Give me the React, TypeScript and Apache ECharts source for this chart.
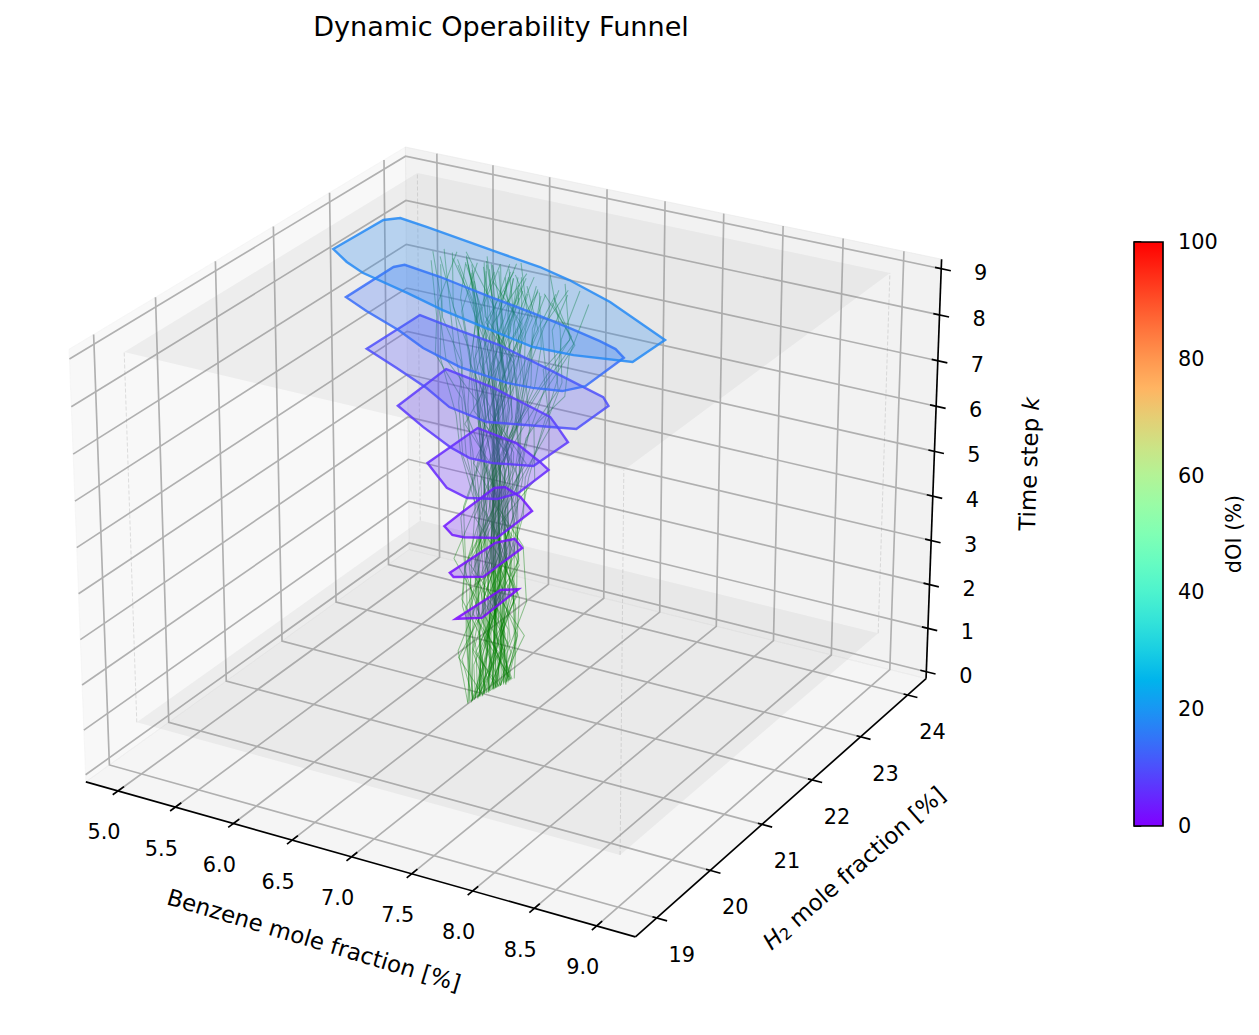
import React, { useEffect, useRef } from "react";
import * as echarts from "echarts";

const FONT = '"DejaVu Sans"';
const title = "Dynamic Operability Funnel";
const xLabel = "Benzene mole fraction [%]";
const xTicks = [5, 5.5, 6, 6.5, 7, 7.5, 8, 8.5, 9];
const yTicks = [19, 20, 21, 22, 23, 24];
const zTicks = [0, 1, 2, 3, 4, 5, 6, 7, 8, 9];
const xLim = [4.717, 9.307];
const yLim = [18.612, 24.402];
const zLim = [-0.16, 9.205];
const boxX = [4.575, 8.695];
const boxY = [19.73, 24.92];
const boxZ = [0, 8.17];

const levels = [2, 3, 4, 5, 6, 7, 8, 9];
const levelDoi = [1, 2, 3, 5, 7, 10, 14, 18];
const polyX = [
  [6.51, 6.55, 6.66, 6.67],
  [6.46, 6.49, 6.58, 6.71, 6.71, 6.52],
  [6.41, 6.40, 6.39, 6.45, 6.64, 6.84, 6.85, 6.63, 6.54],
  [6.14, 6.14, 6.53, 6.85, 6.98, 6.99, 6.91, 6.71, 6.49, 6.31],
  [5.84, 5.80, 6.29, 6.92, 7.06, 7.26, 7.25, 6.97, 6.78, 6.56, 6.20],
  [5.53, 5.54, 5.96, 6.35, 6.91, 7.49, 7.60, 7.60, 7.23, 6.98, 6.61, 6.29, 5.91],
  [5.34, 5.34, 5.39, 5.74, 6.27, 6.69, 7.07, 7.38, 7.55, 7.68, 7.69, 7.59, 7.38, 7.18, 6.74, 6.33, 6.00, 5.61],
  [5.24, 5.26, 5.35, 5.62, 6.35, 6.74, 7.05, 7.51, 8.19, 8.18, 7.76, 7.44, 7.02, 6.54, 6.15, 5.67, 5.46],
];
const polyY = [
  [21.51, 22.26, 22.36, 21.65],
  [21.51, 22.29, 22.46, 22.32, 21.59, 21.45],
  [21.52, 21.88, 22.49, 22.56, 22.44, 22.22, 21.54, 21.40, 21.39],
  [21.79, 22.72, 22.60, 22.34, 22.22, 21.63, 21.42, 21.30, 21.40, 21.60],
  [21.89, 22.86, 22.70, 22.38, 22.21, 21.96, 21.34, 21.21, 21.20, 21.32, 21.59],
  [21.98, 22.93, 22.79, 22.68, 22.40, 22.10, 21.95, 21.35, 21.19, 21.08, 21.20, 21.47, 21.73],
  [22.01, 22.87, 22.97, 22.88, 22.69, 22.55, 22.41, 22.28, 22.19, 22.05, 21.31, 21.11, 21.04, 21.02, 21.12, 21.33, 21.58, 21.82],
  [22.00, 22.86, 22.98, 22.91, 22.69, 22.58, 22.44, 22.17, 21.64, 21.06, 20.93, 20.91, 21.06, 21.24, 21.43, 21.64, 21.79],
];

const trajX = [
  [6.55, 6.50, 6.45, 6.50, 6.42, 6.33, 6.22, 6.10, 6.02, 5.95],
  [6.61, 6.70, 6.66, 6.74, 6.80, 6.92, 6.98, 7.05, 7.12, 7.22],
  [6.60, 6.55, 6.62, 6.58, 6.50, 6.44, 6.50, 6.38, 6.30, 6.18],
  [6.57, 6.62, 6.70, 6.64, 6.72, 6.66, 6.78, 6.86, 6.80, 6.94],
  [6.64, 6.58, 6.50, 6.56, 6.62, 6.55, 6.40, 6.46, 6.58, 6.42],
  [6.59, 6.66, 6.60, 6.52, 6.58, 6.70, 6.62, 6.74, 6.68, 6.80],
  [6.56, 6.48, 6.42, 6.38, 6.46, 6.36, 6.28, 6.36, 6.22, 6.30],
  [6.58, 6.60, 6.68, 6.76, 6.68, 6.78, 6.90, 6.80, 6.92, 7.02],
  [6.63, 6.68, 6.58, 6.64, 6.56, 6.48, 6.56, 6.66, 6.54, 6.60],
  [6.60, 6.50, 6.56, 6.46, 6.54, 6.62, 6.70, 6.58, 6.46, 6.52],
  [6.55, 6.60, 6.54, 6.62, 6.70, 6.60, 6.48, 6.38, 6.26, 6.14],
  [6.62, 6.56, 6.64, 6.72, 6.64, 6.74, 6.84, 6.96, 7.06, 6.98],
  [6.58, 6.64, 6.72, 6.66, 6.60, 6.50, 6.42, 6.54, 6.64, 6.76],
  [6.65, 6.72, 6.78, 6.70, 6.76, 6.86, 6.76, 6.64, 6.72, 6.62],
  [6.56, 6.52, 6.60, 6.54, 6.44, 6.52, 6.60, 6.48, 6.36, 6.46],
  [6.61, 6.66, 6.56, 6.48, 6.52, 6.42, 6.32, 6.20, 6.12, 6.04],
  [6.59, 6.54, 6.48, 6.56, 6.64, 6.74, 6.66, 6.78, 6.90, 6.84],
  [6.63, 6.58, 6.66, 6.60, 6.68, 6.60, 6.70, 6.60, 6.50, 6.38],
  [6.57, 6.64, 6.58, 6.66, 6.58, 6.66, 6.54, 6.44, 6.56, 6.68],
  [6.60, 6.68, 6.74, 6.82, 6.74, 6.64, 6.72, 6.84, 6.94, 7.10],
  [6.55, 6.46, 6.52, 6.44, 6.36, 6.44, 6.54, 6.64, 6.52, 6.40],
  [6.62, 6.54, 6.46, 6.54, 6.60, 6.68, 6.58, 6.48, 6.60, 6.70],
  [6.58, 6.62, 6.54, 6.48, 6.56, 6.48, 6.38, 6.46, 6.34, 6.24],
  [6.64, 6.60, 6.68, 6.74, 6.80, 6.72, 6.82, 6.72, 6.84, 6.90],
  [6.56, 6.58, 6.64, 6.58, 6.50, 6.58, 6.46, 6.56, 6.44, 6.34],
  [6.60, 6.64, 6.70, 6.62, 6.70, 6.78, 6.68, 6.78, 6.66, 6.56],
  [6.59, 6.52, 6.60, 6.68, 6.60, 6.52, 6.62, 6.52, 6.42, 6.28],
  [6.61, 6.70, 6.62, 6.56, 6.48, 6.40, 6.50, 6.42, 6.52, 6.44],
  [6.57, 6.50, 6.44, 6.52, 6.58, 6.66, 6.76, 6.88, 6.98, 7.08],
  [6.63, 6.66, 6.72, 6.78, 6.70, 6.60, 6.52, 6.62, 6.74, 6.66],
  [6.58, 6.56, 6.50, 6.58, 6.66, 6.56, 6.66, 6.56, 6.46, 6.56],
  [6.60, 6.62, 6.68, 6.60, 6.52, 6.46, 6.36, 6.26, 6.16, 6.08],
  [6.62, 6.58, 6.52, 6.46, 6.54, 6.64, 6.56, 6.68, 6.78, 6.72],
  [6.56, 6.62, 6.56, 6.64, 6.72, 6.82, 6.92, 7.00, 6.90, 7.14],
  [6.64, 6.56, 6.62, 6.70, 6.62, 6.54, 6.44, 6.34, 6.44, 6.36],
  [6.59, 6.60, 6.66, 6.72, 6.66, 6.58, 6.68, 6.58, 6.70, 6.58],
  [6.61, 6.54, 6.58, 6.50, 6.56, 6.50, 6.58, 6.70, 6.82, 6.74],
  [6.57, 6.64, 6.70, 6.76, 6.82, 6.90, 7.00, 7.10, 7.02, 6.88],
  [6.60, 6.56, 6.50, 6.44, 6.38, 6.30, 6.20, 6.30, 6.18, 6.00],
  [6.63, 6.68, 6.60, 6.54, 6.62, 6.70, 6.60, 6.50, 6.40, 6.50],
  [6.58, 6.62, 6.68, 6.62, 6.54, 6.62, 6.72, 6.82, 6.72, 6.82],
  [6.61, 6.58, 6.64, 6.56, 6.64, 6.56, 6.46, 6.36, 6.28, 6.20],
  [6.56, 6.60, 6.52, 6.60, 6.52, 6.44, 6.34, 6.44, 6.56, 6.48],
  [6.62, 6.66, 6.74, 6.68, 6.74, 6.68, 6.58, 6.68, 6.80, 6.96],
  [6.56, 6.42, 6.50, 6.36, 6.44, 6.24, 6.30, 6.08, 6.00, 5.90],
  [6.62, 6.78, 6.70, 6.84, 6.74, 6.98, 6.90, 7.24, 7.32, 7.40],
  [6.58, 6.44, 6.56, 6.40, 6.52, 6.30, 6.18, 6.02, 6.12, 5.98],
  [6.60, 6.74, 6.62, 6.78, 6.66, 6.88, 7.02, 6.86, 7.18, 7.06],
  [6.57, 6.68, 6.54, 6.42, 6.58, 6.44, 6.26, 6.40, 6.20, 6.10],
  [6.63, 6.52, 6.66, 6.80, 6.64, 6.82, 6.96, 7.14, 6.98, 7.18],
  [6.55, 6.38, 6.48, 6.60, 6.46, 6.34, 6.48, 6.30, 6.44, 6.26],
  [6.64, 6.80, 6.68, 6.56, 6.72, 6.88, 6.72, 6.90, 6.74, 6.92],
  [6.59, 6.48, 6.60, 6.46, 6.34, 6.50, 6.34, 6.20, 6.34, 6.16],
  [6.61, 6.72, 6.58, 6.72, 6.86, 6.70, 6.86, 7.02, 7.24, 7.12],
  [6.58, 6.66, 6.52, 6.64, 6.50, 6.66, 6.50, 6.66, 6.48, 6.64],
  [6.62, 6.50, 6.64, 6.52, 6.66, 6.50, 6.66, 6.48, 6.66, 6.46],
  [6.56, 6.70, 6.58, 6.44, 6.56, 6.72, 6.56, 6.38, 6.54, 6.72],
  [6.60, 6.46, 6.58, 6.70, 6.58, 6.40, 6.54, 6.72, 6.52, 6.34],
  [6.57, 6.60, 6.46, 6.58, 6.44, 6.56, 6.38, 6.24, 6.08, 6.22],
  [6.63, 6.60, 6.74, 6.62, 6.76, 6.64, 6.82, 6.98, 7.16, 7.02],
  [6.55, 6.44, 6.38, 6.50, 6.62, 6.48, 6.30, 6.14, 5.98, 6.06],
  [6.65, 6.76, 6.82, 6.70, 6.58, 6.74, 6.92, 7.08, 7.26, 7.16],
  [6.59, 6.70, 6.60, 6.72, 6.60, 6.46, 6.60, 6.44, 6.62, 6.78],
  [6.61, 6.50, 6.62, 6.50, 6.62, 6.78, 6.62, 6.80, 6.60, 6.44],
  [6.58, 6.48, 6.56, 6.64, 6.52, 6.60, 6.70, 6.56, 6.42, 6.34],
  [6.62, 6.72, 6.64, 6.56, 6.68, 6.60, 6.50, 6.64, 6.78, 6.86],
  [6.57, 6.62, 6.50, 6.56, 6.48, 6.38, 6.46, 6.32, 6.40, 6.12],
  [6.63, 6.58, 6.70, 6.64, 6.72, 6.82, 6.74, 6.92, 6.84, 7.04],
  [6.60, 6.66, 6.56, 6.66, 6.56, 6.68, 6.78, 6.66, 6.54, 6.68],
  [6.60, 6.54, 6.64, 6.54, 6.64, 6.52, 6.42, 6.54, 6.66, 6.52],
  [6.56, 6.64, 6.72, 6.62, 6.54, 6.44, 6.54, 6.40, 6.26, 6.38],
  [6.64, 6.56, 6.48, 6.58, 6.66, 6.76, 6.64, 6.78, 6.94, 6.80],
  [6.58, 6.52, 6.46, 6.54, 6.46, 6.56, 6.44, 6.58, 6.72, 6.58],
  [6.62, 6.68, 6.74, 6.66, 6.74, 6.64, 6.76, 6.62, 6.48, 6.62],
  [6.59, 6.62, 6.70, 6.60, 6.68, 6.58, 6.48, 6.34, 6.48, 6.30],
  [6.61, 6.58, 6.50, 6.60, 6.52, 6.62, 6.72, 6.88, 6.74, 6.90],
];
const trajY = [
  [21.64, 21.78, 21.92, 22.02, 22.10, 22.22, 22.30, 22.38, 22.46, 22.52],
  [22.06, 21.94, 22.08, 21.98, 22.12, 21.98, 22.10, 22.22, 22.14, 22.26],
  [22.00, 22.14, 22.04, 22.18, 22.30, 22.20, 22.34, 22.24, 22.38, 22.44],
  [21.82, 21.70, 21.84, 21.96, 21.86, 22.00, 22.12, 22.02, 22.18, 22.10],
  [22.24, 22.12, 22.24, 22.10, 21.98, 22.10, 22.24, 22.36, 22.24, 22.40],
  [21.94, 21.82, 21.70, 21.84, 21.96, 21.84, 21.96, 22.10, 22.22, 22.34],
  [21.70, 21.84, 21.96, 22.10, 21.98, 22.12, 22.24, 22.12, 22.26, 22.38],
  [21.76, 21.90, 21.78, 21.92, 22.04, 22.16, 22.04, 22.18, 22.06, 21.98],
  [22.18, 22.30, 22.18, 22.06, 22.20, 22.32, 22.20, 22.08, 22.22, 22.34],
  [22.02, 22.16, 22.28, 22.14, 22.02, 21.90, 22.02, 22.16, 22.30, 22.50],
  [21.66, 21.56, 21.68, 21.80, 21.92, 22.06, 22.18, 22.30, 22.42, 22.36],
  [22.12, 22.24, 22.12, 22.00, 21.88, 21.76, 21.88, 22.00, 21.90, 22.04],
  [21.88, 22.00, 22.14, 22.28, 22.14, 22.26, 22.40, 22.28, 22.16, 22.28],
  [22.30, 22.18, 22.04, 21.90, 22.04, 21.92, 21.80, 21.94, 22.08, 22.20],
  [21.72, 21.60, 21.74, 21.62, 21.76, 21.90, 22.04, 22.18, 22.30, 22.46],
  [22.04, 21.92, 21.80, 21.94, 22.06, 22.18, 22.32, 22.44, 22.32, 22.48],
  [21.96, 22.10, 22.22, 22.08, 21.96, 22.08, 21.94, 22.08, 22.20, 22.12],
  [22.20, 22.06, 21.94, 22.06, 21.92, 22.06, 21.92, 22.06, 22.20, 22.32],
  [21.80, 21.94, 22.08, 22.20, 22.32, 22.18, 22.06, 22.20, 22.32, 22.22],
  [21.98, 21.86, 21.98, 21.86, 21.98, 22.12, 22.26, 22.14, 22.00, 22.08],
  [21.68, 21.82, 21.70, 21.84, 21.98, 22.12, 22.00, 22.12, 22.26, 22.42],
  [22.10, 21.98, 22.10, 22.24, 22.12, 21.98, 22.10, 22.24, 22.36, 22.26],
  [21.84, 21.72, 21.86, 22.00, 22.12, 22.26, 22.38, 22.26, 22.38, 22.30],
  [22.26, 22.14, 22.28, 22.16, 22.04, 22.18, 22.06, 22.18, 22.04, 22.16],
  [21.74, 21.88, 22.02, 21.90, 22.04, 21.92, 22.06, 21.94, 22.08, 22.20],
  [22.00, 22.12, 21.98, 22.12, 22.24, 22.12, 22.26, 22.14, 22.28, 22.40],
  [21.92, 21.80, 21.92, 22.06, 22.18, 22.30, 22.16, 22.30, 22.18, 22.32],
  [22.08, 22.22, 22.34, 22.22, 22.36, 22.22, 22.08, 22.22, 22.10, 22.24],
  [21.78, 21.90, 21.78, 21.66, 21.80, 21.94, 22.06, 21.94, 22.04, 22.18],
  [22.22, 22.08, 21.96, 22.10, 22.22, 22.10, 22.22, 22.34, 22.44, 22.30],
  [21.86, 22.00, 22.12, 22.00, 21.86, 21.98, 22.12, 22.26, 22.38, 22.54],
  [22.02, 21.90, 21.76, 21.90, 22.02, 22.16, 22.04, 22.16, 22.04, 22.18],
  [22.16, 22.28, 22.16, 22.28, 22.14, 22.02, 22.14, 22.02, 22.16, 22.28],
  [21.70, 21.58, 21.72, 21.86, 21.74, 21.88, 22.00, 22.14, 22.26, 22.22],
  [22.28, 22.16, 22.02, 21.90, 22.02, 22.16, 22.30, 22.16, 22.04, 22.14],
  [21.90, 22.04, 21.92, 21.78, 21.92, 22.06, 22.20, 22.34, 22.44, 22.58],
  [22.04, 22.18, 22.06, 22.20, 22.08, 22.22, 22.08, 21.96, 22.08, 21.92],
  [21.82, 21.96, 22.10, 21.98, 22.10, 21.96, 22.08, 22.20, 22.34, 22.46],
  [21.96, 21.84, 21.96, 22.10, 22.22, 22.10, 22.24, 22.10, 22.22, 22.34],
  [22.14, 22.02, 22.14, 22.28, 22.16, 22.02, 21.90, 22.02, 22.14, 22.26],
  [21.88, 21.76, 21.88, 22.02, 22.14, 22.02, 21.90, 21.78, 21.90, 22.04],
  [22.06, 22.20, 22.32, 22.20, 22.06, 22.20, 22.34, 22.46, 22.34, 22.24],
  [21.76, 21.88, 22.00, 22.14, 22.28, 22.14, 22.28, 22.40, 22.26, 22.42],
  [22.22, 22.34, 22.20, 22.06, 21.94, 22.06, 22.18, 22.04, 21.92, 22.06],
  [21.62, 21.74, 21.94, 21.80, 22.04, 22.18, 21.98, 22.16, 22.36, 22.42],
  [22.10, 21.96, 21.82, 21.98, 21.84, 21.96, 22.12, 21.94, 21.84, 22.02],
  [21.90, 22.10, 21.90, 22.12, 21.94, 22.16, 22.34, 22.20, 22.02, 22.22],
  [22.04, 21.86, 22.10, 21.88, 22.10, 21.92, 22.16, 22.38, 22.16, 22.34],
  [21.78, 22.00, 22.18, 22.36, 22.12, 22.30, 22.48, 22.28, 22.50, 22.36],
  [22.28, 22.06, 21.84, 22.06, 22.28, 22.04, 21.84, 22.04, 22.28, 22.12],
  [21.74, 21.98, 21.76, 21.96, 22.18, 22.38, 22.14, 22.34, 22.12, 22.30],
  [22.20, 21.98, 22.22, 22.42, 22.20, 21.96, 22.18, 21.94, 22.16, 21.96],
  [21.84, 21.62, 21.86, 22.10, 22.30, 22.08, 22.30, 22.50, 22.28, 22.48],
  [22.12, 22.34, 22.14, 21.92, 21.72, 21.96, 21.76, 21.98, 22.10, 22.00],
  [21.96, 22.20, 22.40, 22.18, 22.38, 22.16, 22.40, 22.18, 22.40, 22.22],
  [22.08, 21.84, 21.66, 21.88, 21.68, 21.92, 21.72, 21.94, 21.76, 21.98],
  [21.68, 21.90, 21.68, 21.90, 22.12, 21.90, 22.14, 22.36, 22.14, 22.38],
  [22.30, 22.46, 22.24, 22.02, 22.26, 22.48, 22.24, 22.00, 22.24, 22.46],
  [21.72, 21.94, 22.14, 21.94, 22.14, 22.36, 22.14, 22.36, 22.54, 22.34],
  [22.24, 22.02, 21.82, 22.04, 21.84, 22.06, 21.86, 22.08, 22.24, 22.04],
  [21.86, 22.12, 21.90, 21.70, 21.92, 22.14, 22.36, 22.14, 22.34, 22.52],
  [22.14, 21.92, 22.16, 22.36, 22.14, 21.92, 21.72, 21.90, 22.08, 21.88],
  [21.94, 21.72, 21.94, 22.16, 22.36, 22.56, 22.32, 22.52, 22.32, 22.10],
  [22.00, 22.24, 22.02, 21.78, 22.00, 22.24, 22.04, 21.84, 22.06, 22.30],
  [21.80, 22.04, 22.26, 22.04, 21.84, 22.06, 22.28, 22.48, 22.26, 22.42],
  [22.18, 21.96, 21.74, 21.96, 22.18, 22.40, 22.18, 21.98, 21.78, 22.00],
  [21.66, 21.86, 22.06, 22.26, 22.06, 22.26, 22.06, 22.28, 22.48, 22.56],
  [22.26, 22.04, 22.26, 22.04, 21.82, 22.02, 22.24, 22.02, 22.22, 22.02],
  [21.92, 22.14, 21.94, 22.16, 22.38, 22.18, 21.98, 22.20, 22.42, 22.22],
  [22.06, 21.82, 22.04, 22.26, 22.06, 22.30, 22.50, 22.30, 22.08, 22.30],
  [21.76, 21.56, 21.78, 21.98, 22.20, 22.00, 22.22, 22.44, 22.58, 22.38],
  [22.16, 22.38, 22.18, 21.96, 21.76, 21.96, 22.18, 21.96, 21.80, 22.04],
  [21.88, 22.08, 22.30, 22.50, 22.28, 22.06, 21.84, 22.06, 22.28, 22.06],
  [22.10, 21.90, 21.68, 21.90, 21.70, 21.92, 22.14, 22.36, 22.14, 22.36],
  [21.82, 22.06, 21.84, 21.62, 21.84, 22.08, 22.30, 22.52, 22.30, 22.56],
  [22.02, 22.26, 22.46, 22.24, 22.02, 21.80, 21.98, 21.78, 22.00, 21.84],
];

const doiTicks = [0, 20, 40, 60, 80, 100];

// matplotlib's mplot3d projection (elev 25, azim -60, default box)
const ELEV = (25 * Math.PI) / 180;
const AZIM = (-60 * Math.PI) / 180;
const BOX = [1.190485, 1.190485, 0.892864];
const W = [Math.cos(ELEV) * Math.cos(AZIM), Math.cos(ELEV) * Math.sin(AZIM), Math.sin(ELEV)];
const U = [-Math.sin(AZIM), Math.cos(AZIM), 0];
const V = [-Math.sin(ELEV) * Math.cos(AZIM), -Math.sin(ELEV) * Math.sin(AZIM), Math.cos(ELEV)];
type P3 = [number, number, number];
function project([x, y, z]: P3): [number, number] {
  const q = [
    ((x - xLim[0]) / (xLim[1] - xLim[0]) - 0.5) * BOX[0],
    ((y - yLim[0]) / (yLim[1] - yLim[0]) - 0.5) * BOX[1],
    ((z - zLim[0]) / (zLim[1] - zLim[0]) - 0.5) * BOX[2],
  ];
  const dot = (a: number[]) => a[0] * q[0] + a[1] * q[1] + a[2] * q[2];
  const d = 10 - dot(W);
  return [dot(U) / d, dot(V) / d];
}

function rainbow(t: number) {
  const c = [Math.abs(2 * t - 0.5), Math.sin(Math.PI * t), Math.cos((Math.PI * t) / 2)];
  return c.map((v) => Math.round(Math.min(1, Math.max(0, v)) * 255));
}
const rgba = (c: number[], a: number) => `rgba(${c[0]},${c[1]},${c[2]},${a})`;

const SCALE = 5262;
const CX = 514.1;
const CY = 520.3;
const LW = 1.67;

function shapes(items: any[], make: (item: any, pts: (p: P3) => number[], api: any) => any, name: string) {
  return {
    type: "custom",
    name,
    coordinateSystem: "cartesian2d",
    xAxisIndex: 0,
    yAxisIndex: 0,
    silent: true,
    clip: false,
    data: items.map((_, i) => [i, 0]),
    renderItem: (params: any, api: any) => {
      const pt = (p: P3) => api.coord(project(p));
      return make(items[params.dataIndex], pt, api);
    },
  };
}
const [x0, x1] = xLim;
const [y0, y1] = yLim;
const [z0, z1] = zLim;

function line(points: P3[], stroke: string, lineWidth: number, extra: any = {}) {
  return { points, stroke, lineWidth, extra };
}
const poly = (pts: (p: P3) => number[], l: any) => ({
  type: "polyline",
  shape: { points: l.points.map(pts) },
  style: { stroke: l.stroke, lineWidth: l.lineWidth, fill: "none", ...l.extra },
});
const fillPoly = (pts: (p: P3) => number[], points: P3[], fill: string, stroke?: string, lineWidth = 0) => ({
  type: "polygon",
  shape: { points: points.map(pts) },
  style: { fill, stroke: stroke || "none", lineWidth, lineJoin: "miter" },
});

function buildOption() {
  const panes = [
    { pts: [[x0, y0, z0], [x0, y1, z0], [x0, y1, z1], [x0, y0, z1]] as P3[], c: "rgba(242,242,242,0.5)" },
    { pts: [[x0, y1, z0], [x1, y1, z0], [x1, y1, z1], [x0, y1, z1]] as P3[], c: "rgba(230,230,230,0.5)" },
    { pts: [[x0, y0, z0], [x1, y0, z0], [x1, y1, z0], [x0, y1, z0]] as P3[], c: "rgba(236,236,236,0.5)" },
  ];
  const GRID = "#b0b0b0";
  const gridLines = [
    ...xTicks.map((v) => line([[v, y0, z0], [v, y1, z0], [v, y1, z1]], GRID, LW)),
    ...yTicks.map((v) => line([[x1, v, z0], [x0, v, z0], [x0, v, z1]], GRID, LW)),
    ...zTicks.map((v) => line([[x0, y0, v], [x0, y1, v], [x1, y1, v]], GRID, LW)),
  ];
  const [bx0, bx1] = boxX;
  const [by0, by1] = boxY;
  const [bz0, bz1] = boxZ;
  const rects = boxZ.map((z) => [[bx0, by0, z], [bx1, by0, z], [bx1, by1, z], [bx0, by1, z]] as P3[]);
  const dashes = [[bx0, by0], [bx1, by0], [bx1, by1], [bx0, by1]].map(([x, y]) =>
    line([[x, y, bz0], [x, y, bz1]], "rgba(128,128,128,0.3)", 0.8, { lineDash: [4, 2] })
  );
  const rx = x1 - x0;
  const ry = y1 - y0;
  const axes = [
    line([[x0, y0, z0], [x1, y0, z0]], "#000", LW),
    line([[x1, y0, z0], [x1, y1, z0]], "#000", LW),
    line([[x1, y1, z0], [x1, y1, z1]], "#000", LW),
    ...xTicks.map((v) => line([[v, y0 - 0.015 * ry, z0], [v, y0 + 0.017 * ry, z0]], "#000", LW)),
    ...yTicks.map((v) => line([[x1 + 0.018 * rx, v, z0], [x1 - 0.0073 * rx, v, z0]], "#000", LW)),
    ...zTicks.map((v) => line([[x1 + 0.017 * rx, y1, v], [x1 - 0.011 * rx, y1, v]], "#000", LW)),
  ];
  const trajectories = trajX.map((xs, i) =>
    line(xs.map((x, k) => [x, trajY[i][k], k] as P3), "rgba(0,128,0,0.4)", 1.05, { lineJoin: "miter" })
  );
  const polys = levels.map((k, i) => {
    const c = rainbow(levelDoi[i] / 100);
    return {
      points: polyX[i].map((x, j) => [x, polyY[i][j], k] as P3),
      fill: rgba(c, 0.27),
      stroke: rgba(c, 0.85),
    };
  });
  const text = (x: number, y: number, str: string, rotation = 0, rich?: any, size = 20.83) => ({
    type: "text",
    x,
    y,
    rotation,
    style: {
      text: str,
      fill: "#000",
      fontSize: size,
      fontFamily: FONT,
      align: "center",
      verticalAlign: "middle",
      ...(rich ? { rich } : {}),
    },
  });
  const tickLabels = [
    ...xTicks.map((v) => ({ p: [v, y0, z0] as P3, s: v.toFixed(1), dx: -14, dy: 41.5 })),
    ...yTicks.map((v) => ({ p: [x1, v, z0] as P3, s: String(v), dx: 25, dy: 37 })),
    ...zTicks.map((v) => ({ p: [x1, y1, v] as P3, s: String(v), dx: 39.5, dy: 4 })),
  ];
  const NAME = 22.9;
  const base = { fontSize: NAME, fontFamily: FONT, fill: "#000" };
  const axisNames = [
    { at: [314, 940], s: xLabel, r: (-16.7 * Math.PI) / 180 },
    {
      at: [854, 868],
      s: "{i|H}{s|2}{n| mole fraction [%]}",
      r: (41.3 * Math.PI) / 180,
      rich: {
        i: { ...base, fontStyle: "italic" },
        s: { ...base, fontSize: 16, verticalAlign: "bottom", padding: [9, 0, 0, 0] },
        n: base,
      },
    },
    {
      at: [1029, 464],
      s: "{n|Time step }{i|k}",
      r: (88.2 * Math.PI) / 180,
      rich: { n: base, i: { ...base, fontStyle: "italic" } },
    },
  ];
  const stops = Array.from({ length: 21 }, (_, i) => ({
    offset: i / 20,
    color: rgba(rainbow(i / 20), 1),
  }));

  return {
    animation: false,
    backgroundColor: "#fff",
    title: {
      text: title,
      left: 496,
      top: 7.5,
      textAlign: "center",
      textStyle: { fontFamily: FONT, fontSize: 27.08, fontWeight: "normal", color: "#000" },
    },
    grid: [
      { left: 0, top: 0, right: 0, bottom: 0 },
      { left: 1134, top: 242, width: 29, height: 584 },
    ],
    xAxis: [
      { type: "value", show: false, gridIndex: 0, min: (0 - CX) / SCALE, max: (1259 - CX) / SCALE },
      { type: "value", show: false, gridIndex: 1, min: 0, max: 1 },
    ],
    yAxis: [
      { type: "value", show: false, gridIndex: 0, min: (CY - 1035) / SCALE, max: CY / SCALE },
      {
        type: "value",
        gridIndex: 1,
        position: "right",
        min: doiTicks[0],
        max: doiTicks[doiTicks.length - 1],
        interval: 20,
        name: "dOI (%)",
        nameLocation: "middle",
        nameRotate: 90,
        nameGap: 60,
        nameTextStyle: { fontFamily: FONT, fontSize: 20.83, color: "#000" },
        axisLine: { show: false },
        axisTick: { show: true, length: 7.3, lineStyle: { color: "#000", width: LW } },
        splitLine: { show: false },
        axisLabel: { show: true, margin: 15, color: "#000", fontFamily: FONT, fontSize: 20.83 },
      },
    ],
    series: [
      shapes(panes, (it, pt) => fillPoly(pt, it.pts, it.c, it.c, 1), "panes"),
      shapes(gridLines, (l, pt) => poly(pt, l), "grid"),
      shapes(rects, (r, pt) => fillPoly(pt, r, "rgba(128,128,128,0.09)"), "bounds"),
      shapes(dashes, (l, pt) => poly(pt, l), "bound edges"),
      shapes(axes, (l, pt) => poly(pt, l), "axes"),
      shapes(trajectories, (l, pt) => poly(pt, l), "trajectories"),
      shapes(polys, (it, pt) => fillPoly(pt, it.points, it.fill, it.stroke, 2.4), "funnel"),
      shapes(tickLabels, (t, pt) => {
        const c = pt(t.p);
        return text(c[0] + t.dx, c[1] + t.dy, t.s);
      }, "tick labels"),
      shapes(axisNames, (n) => text(n.at[0], n.at[1], n.s, n.r, n.rich, NAME), "axis names"),
      {
        type: "custom",
        name: "colorbar",
        coordinateSystem: "cartesian2d",
        xAxisIndex: 1,
        yAxisIndex: 1,
        silent: true,
        clip: false,
        data: [[0, 0]],
        renderItem: (_: any, api: any) => {
          const a = api.coord([0, doiTicks[doiTicks.length - 1]]);
          const b = api.coord([1, doiTicks[0]]);
          return {
            type: "rect",
            shape: { x: a[0], y: a[1], width: b[0] - a[0], height: b[1] - a[1] },
            style: {
              fill: new echarts.graphic.LinearGradient(0, 1, 0, 0, stops),
              stroke: "#000",
              lineWidth: LW,
            },
          };
        },
      },
    ],
  };
}

export default function App() {
  const ref = useRef<HTMLDivElement>(null);
  useEffect(() => {
    document.body.style.margin = "0";
    const chart = echarts.init(ref.current!, undefined, { renderer: "svg" });
    chart.setOption(buildOption() as any);
    return () => chart.dispose();
  }, []);
  return <div ref={ref} style={{ width: 1259, height: 1035 }} />;
}
